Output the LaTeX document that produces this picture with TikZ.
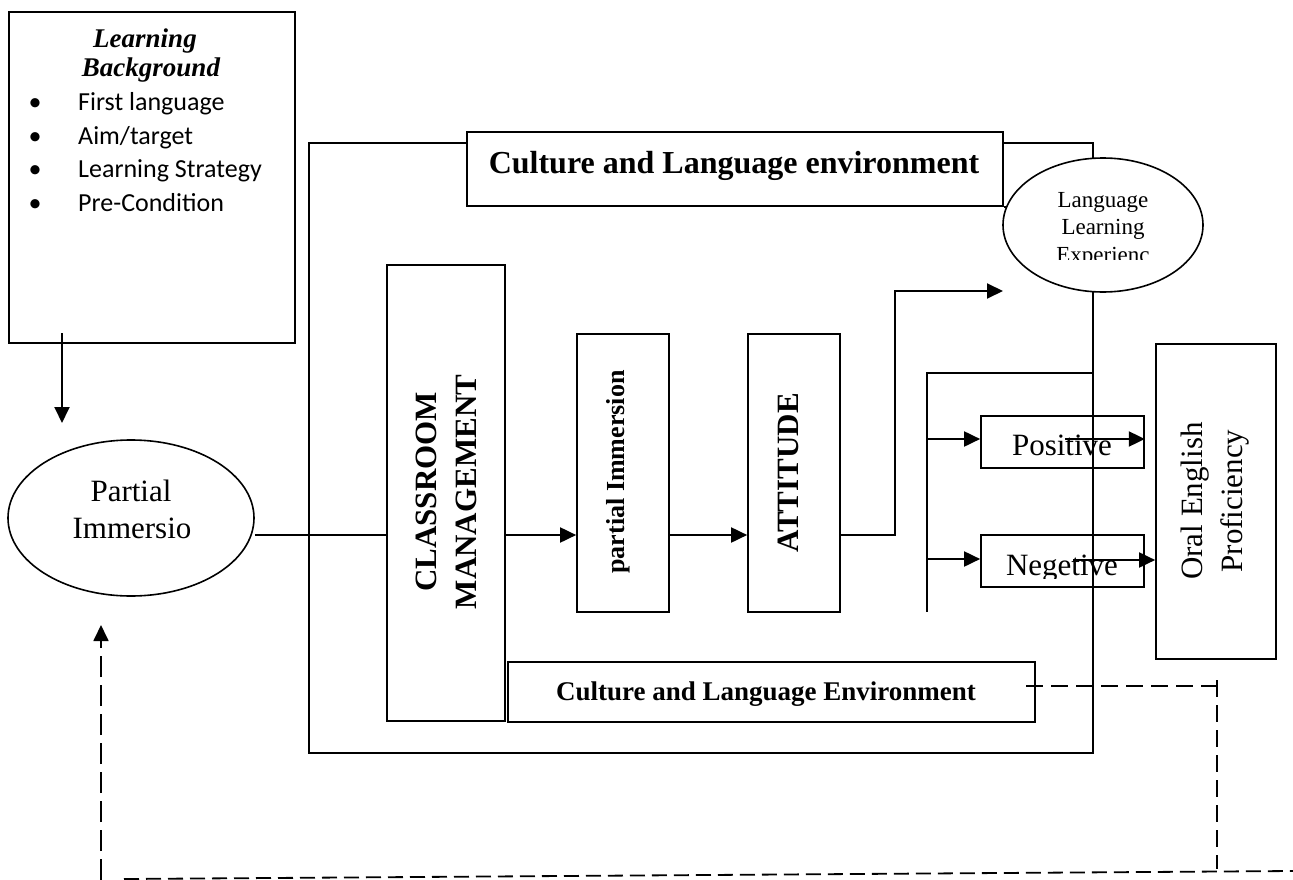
\documentclass[tikz,border=0pt]{standalone}
\usepackage{fontspec}
\setmainfont{Liberation Serif}
\newfontfamily\calfont{Carlito}
\usetikzlibrary{arrows.meta,shapes.geometric}
\begin{document}
\begin{tikzpicture}[x=1pt,y=-1pt,
  box/.style={draw,line width=1.7pt,inner sep=0pt,rectangle},
  oval/.style={draw,line width=1.6pt,inner sep=0pt,ellipse,fill=white},
  ln/.style={line width=1.9pt},
  arr/.style={line width=1.9pt,-{Triangle[length=16pt,width=15pt]}},
  dsh/.style={line width=1.8pt,dash pattern=on 17pt off 8pt},
  item/.style={font=\calfont\fontsize{26}{30}\selectfont,inner sep=0pt},
  lbl/.style={inner sep=0pt,align=center}]
\useasboundingbox (0,0) rectangle (1293,880);
\fill[white] (0,0) rectangle (1293,880);

% Learning background
\node[box,minimum width=286pt,minimum height=331pt] (lb) at (152,177.5) {};
\node[lbl,anchor=base,font=\bfseries\itshape\fontsize{27}{27}\selectfont] (lbt1) at (145,48) {Learning};
\node[lbl,anchor=base,font=\bfseries\itshape\fontsize{27}{27}\selectfont] (lbt2) at (151,77) {Background};
\node[item,anchor=base] (b1) at (35,111) {\textbullet};
\node[item,anchor=base] (b2) at (35,145) {\textbullet};
\node[item,anchor=base] (b3) at (35,178) {\textbullet};
\node[item,anchor=base] (b4) at (35,211) {\textbullet};
\node[item,anchor=base west] (i1) at (78,111) {First language};
\node[item,anchor=base west] (i2) at (78,145) {Aim/target};
\node[item,anchor=base west] (i3) at (78,178) {Learning Strategy};
\node[item,anchor=base west] (i4) at (78,211) {Pre-Condition};

% outer frame
\node[box,minimum width=784pt,minimum height=610pt] (outer) at (701,448) {};

% culture top
\node[box,fill=white,minimum width=536pt,minimum height=74pt] (ct) at (735,169) {};
\node[lbl,anchor=base,font=\bfseries\fontsize{32}{36}\selectfont] (ctt) at (734,174) {Culture and Language environment};
\draw[ln] (ct.south east) -- ++(12,0);

% language learning experience
\node[oval,minimum width=200pt,minimum height=134pt] (lle) at (1103,225) {};
\node[lbl,anchor=base,font=\fontsize{23}{27}\selectfont] (llet1) at (1103,207) {Language};
\node[lbl,anchor=base,font=\fontsize{23}{27}\selectfont] (llet2) at (1103,234) {Learning};
\begin{scope}
\clip (1000,238) rectangle (1210,259);
\node[lbl,anchor=base,font=\fontsize{23}{27}\selectfont] (llet3) at (1103,262) {Experienc};
\end{scope}

% partial immersion ellipse
\node[oval,minimum width=246pt,minimum height=156pt] (pe) at (131,518) {};
\node[lbl,anchor=base,font=\fontsize{31}{38}\selectfont] (pet1) at (131,501) {Partial};
\node[lbl,anchor=base,font=\fontsize{31}{38}\selectfont] (pet2) at (132,538) {Immersio};

% boxes in the middle
\node[box,minimum width=118pt,minimum height=456pt] (cm) at (446,493) {};
\node[lbl,rotate=90,font=\bfseries\fontsize{31}{40}\selectfont] (cmt) at (446,492) {CLASSROOM\\MANAGEMENT};
\node[box,minimum width=92pt,minimum height=278pt] (pim) at (623,473) {};
\node[lbl,rotate=90,font=\bfseries\fontsize{26}{30}\selectfont] (pimt) at (618,472) {partial Immersion};
\node[box,minimum width=92pt,minimum height=278pt] (att) at (794,473) {};
\node[lbl,rotate=90,font=\bfseries\fontsize{31}{36}\selectfont] (attt) at (788,473) {ATTITUDE};

% culture bottom
\node[box,minimum width=527pt,minimum height=60pt] (cb) at (771.5,692) {};
\node[lbl,anchor=base,font=\bfseries\fontsize{27}{30}\selectfont] (cbt) at (766,700) {Culture and Language Environment};

% positive / negative
\node[box,minimum width=163pt,minimum height=52pt] (pos) at (1062.5,442) {};
\node[lbl,anchor=base,font=\fontsize{31}{36}\selectfont] (post) at (1062,455) {Positive};
\node[box,minimum width=163pt,minimum height=52pt] (neg) at (1062.5,561) {};
\begin{scope}
\clip (990,540) rectangle (1140,578);
\node[lbl,anchor=base,font=\fontsize{31}{36}\selectfont] (negt) at (1062,575) {Negetive};
\end{scope}

% oral english proficiency
\node[box,minimum width=120pt,minimum height=315pt] (oral) at (1216,501.5) {};
\node[lbl,rotate=90,font=\fontsize{31}{40}\selectfont] (oralt) at (1215,501) {Oral English\\Proficiency};

% connectors
\coordinate (ymain) at (0,535);
\coordinate (lbo) at (62,333);
\coordinate (pin) at (62,423);
\draw[arr] (lbo) -- (pin);
\draw[ln] (pe.east |- ymain) -- (cm.west |- ymain);
\draw[arr] (cm.east |- ymain) -- (pim.west |- ymain);
\draw[arr] (pim.east |- ymain) -- (att.west |- ymain);
\coordinate (up) at (895,291);
\coordinate (upend) at (1003,291);
\draw[arr] (att.east |- ymain) -| (up) -- (upend);

\coordinate (br1) at (1093,373);
\coordinate (br2) at (927,373);
\coordinate (br3) at (927,612);
\draw[ln] (br1) -- (br2) -- (br3);
\coordinate (pin1) at (927,439);
\coordinate (nin1) at (927,559);
\draw[arr] (pin1) -- (pos.west |- pin1);
\draw[arr] (nin1) -- (neg.west |- nin1);
\coordinate (pa) at (1065,439);
\draw[arr] (pa) -- (pos.east |- pa);
\coordinate (na) at (1073,560);
\draw[arr] (na) -- (oral.west |- na);

% dashed feedback
\coordinate (d1) at (1026,686);
\coordinate (d2) at (1217,686);
\coordinate (d2t) at (1217,680);
\coordinate (d3) at (1217,869);
\coordinate (d4) at (124,879);
\coordinate (d5) at (1293,871);
\coordinate (d6) at (101,880);
\coordinate (d7) at (101,625);
\draw[dsh] (d1) -- (d2);
\draw[dsh] (d2t) -- (d3);
\draw[dsh,dash pattern=on 15pt off 7pt] (d4) -- (d5);
\draw[dsh,dash pattern=on 21pt off 8pt,-{Triangle[length=16pt,width=15pt]}] (d6) -- (d7);
\end{tikzpicture}
\end{document}
